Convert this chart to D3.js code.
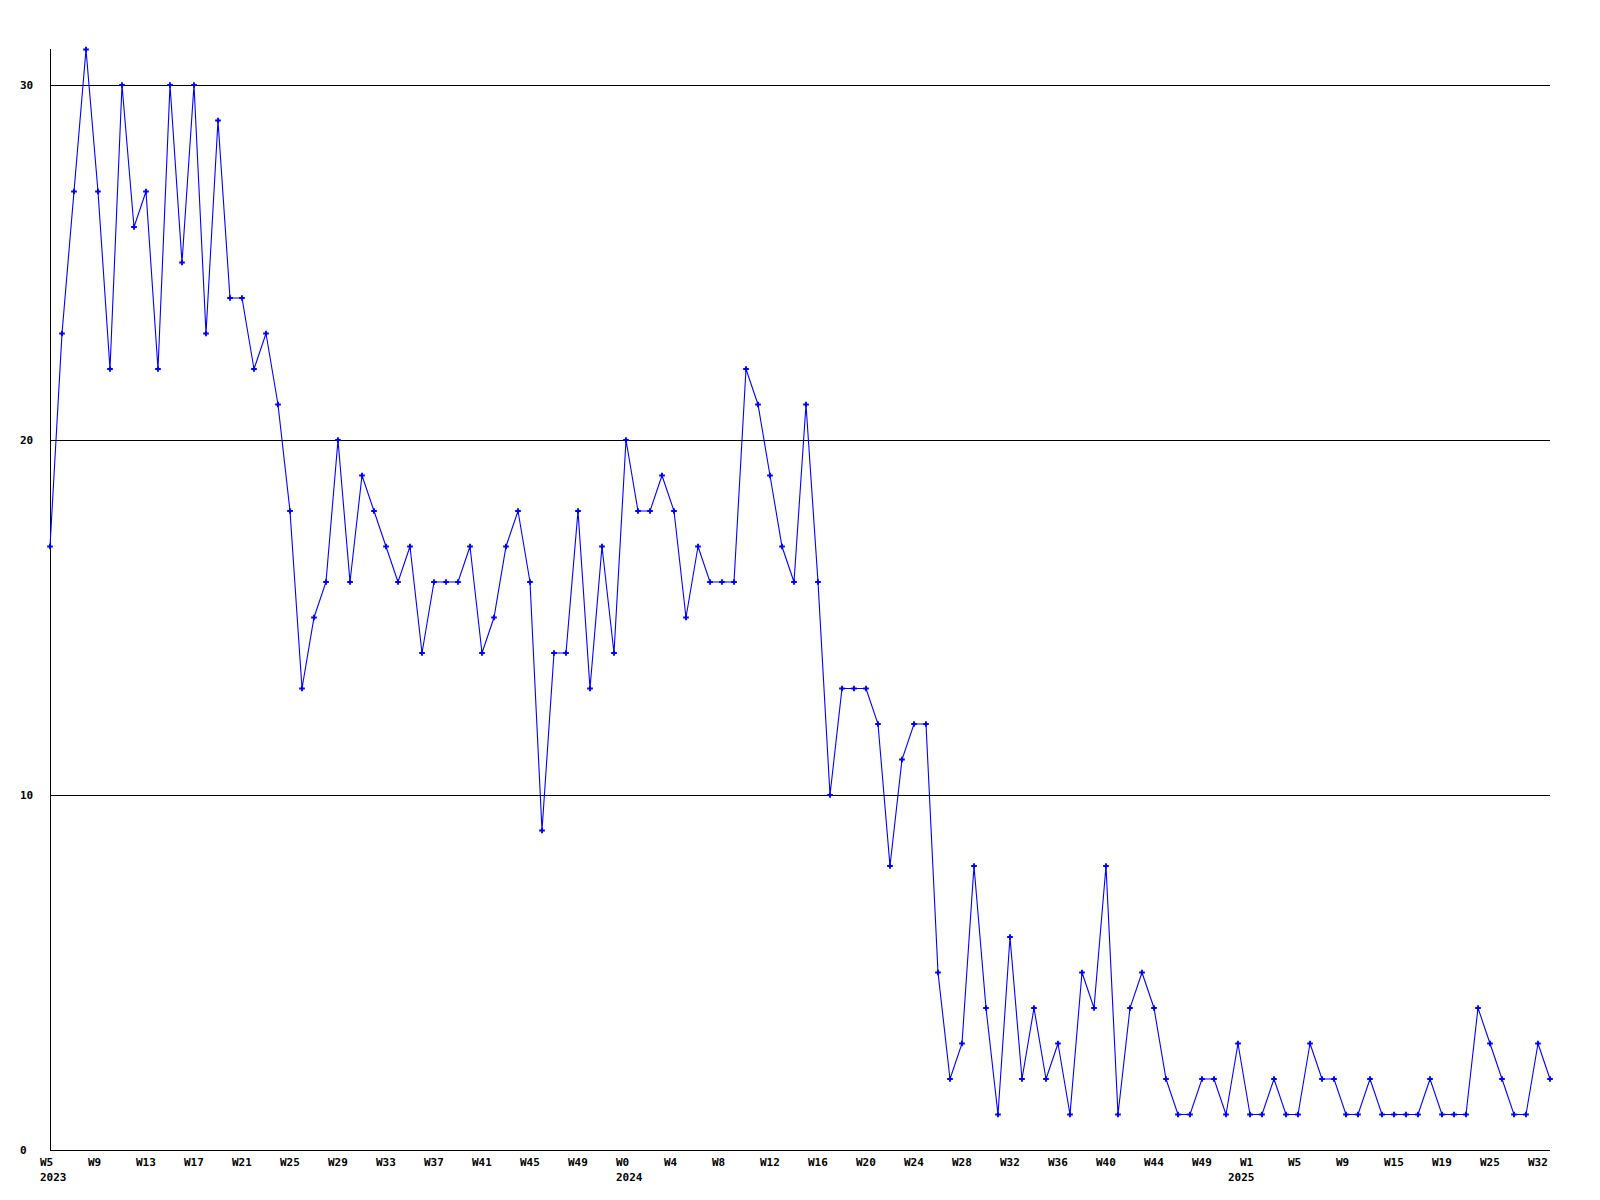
<!DOCTYPE html>
<html>
<head>
<meta charset="utf-8">
<script src="https://cdn.jsdelivr.net/npm/d3@7"></script>
<style>
  html, body { margin: 0; padding: 0; background: #fff; }
  svg { display: block; }
  text { font-family: "DejaVu Sans Mono", "Liberation Mono", monospace; font-weight: bold; font-size: 11px; fill: #000; }
</style>
</head>
<body>
<svg id="chart" width="1600" height="1200"></svg>
<script>
// Weekly values, one per data point (126 points)
const values = [
  17, 23, 27, 31, 27, 22, 30, 26, 27, 22,
  30, 25, 30, 23, 29, 24, 24, 22, 23, 21,
  18, 13, 15, 16, 20, 16, 19, 18, 17, 16,
  17, 14, 16, 16, 16, 17, 14, 15, 17, 18,
  16, 9, 14, 14, 18, 13, 17, 14, 20, 18,
  18, 19, 18, 15, 17, 16, 16, 16, 22, 21,
  19, 17, 16, 21, 16, 10, 13, 13, 13, 12,
  8, 11, 12, 12, 5, 2, 3, 8, 4, 1,
  6, 2, 4, 2, 3, 1, 5, 4, 8, 1,
  4, 5, 4, 2, 1, 1, 2, 2, 1, 3,
  1, 1, 2, 1, 1, 3, 2, 2, 1, 1,
  2, 1, 1, 1, 1, 2, 1, 1, 1, 4,
  3, 2, 1, 1, 3, 2
];
// Week labels shown on every 4th point
const tickLabels = [
  "W5", "W9", "W13", "W17", "W21", "W25", "W29", "W33", "W37", "W41", "W45", "W49",
  "W0", "W4", "W8", "W12", "W16", "W20", "W24", "W28", "W32", "W36", "W40", "W44", "W49",
  "W1", "W5", "W9", "W15", "W19", "W25", "W32"
];
const tickStep = 4;
// Year labels and the point index of the first week of each year
const yearLabels = ["2023", "2024", "2025"];
const yearIndex = [0, 48, 99];
const yTicks = [0, 10, 20, 30];

const svg = d3.select("#chart");
const x0 = 50, x1 = 1550, yTop = 49, yBottom = 1150;

const x = d3.scaleLinear().domain([0, values.length - 1]).range([x0, x1]);
const y = d3.scaleLinear().domain([0, 31]).range([yBottom, 49.5]);

// grid lines
svg.append("g").selectAll("line").data(yTicks.filter(d => d > 0)).join("line")
  .attr("x1", x0).attr("x2", x1)
  .attr("y1", d => Math.round(y(d)) + 0.5).attr("y2", d => Math.round(y(d)) + 0.5)
  .attr("stroke", "#000").attr("stroke-width", 1).attr("shape-rendering", "crispEdges");

// axes lines
svg.append("line").attr("x1", x0 + 0.5).attr("x2", x0 + 0.5).attr("y1", yTop).attr("y2", yBottom + 0.5)
  .attr("stroke", "#000").attr("shape-rendering", "crispEdges");
svg.append("line").attr("x1", x0).attr("x2", x1).attr("y1", yBottom + 0.5).attr("y2", yBottom + 0.5)
  .attr("stroke", "#000").attr("shape-rendering", "crispEdges");

// y labels
svg.append("g").selectAll("text").data(yTicks).join("text")
  .attr("x", 20).attr("y", d => y(d) + 4)
  .attr("text-anchor", "start")
  .text(d => d);

// x labels: left edge sits 10px left of the point
const tickData = tickLabels.map((t, i) => ({ label: t, idx: i * tickStep }));
svg.append("g").selectAll("text").data(tickData).join("text")
  .attr("x", d => x(d.idx) - 10).attr("y", 1166)
  .attr("text-anchor", "start")
  .text(d => d.label);

// year labels under the first week of each year
svg.append("g").selectAll("text").data(yearLabels).join("text")
  .attr("x", (d, i) => x(yearIndex[i]) - 10)
  .attr("y", 1181)
  .attr("text-anchor", "start")
  .text(d => d);

// line
const line = d3.line().x((d, i) => x(i)).y(d => y(d));
svg.append("path").datum(values)
  .attr("d", line)
  .attr("fill", "none").attr("stroke", "#0000ff").attr("stroke-width", 1.1);

// markers
const sym = d3.symbol().type(d3.symbolCross).size(18);
svg.append("g").selectAll("path").data(values).join("path")
  .attr("transform", (d, i) => `translate(${x(i)},${y(d)})`)
  .attr("d", sym)
  .attr("fill", "#0000ff");
</script>
</body>
</html>
